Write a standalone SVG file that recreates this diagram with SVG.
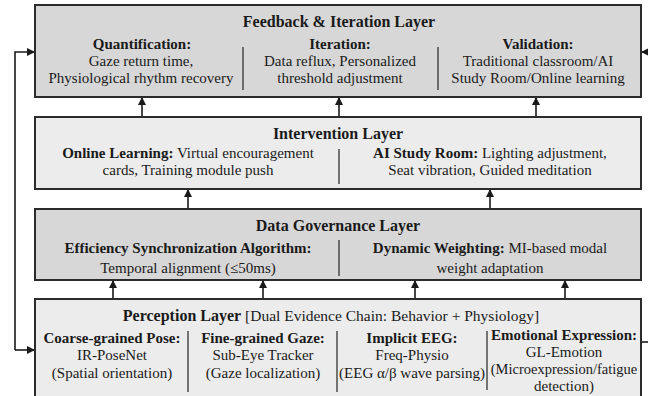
<svg xmlns="http://www.w3.org/2000/svg" width="648" height="396" viewBox="0 0 648 396">
<defs>
<marker id="ah" markerWidth="8" markerHeight="8" refX="7" refY="4" orient="auto" markerUnits="userSpaceOnUse">
<path d="M0,0 L8,4 L0,8 Z" fill="#1a1a1a"/>
</marker>
<style>
.dark{fill:#d7d7d7;stroke:#2b2b2b;stroke-width:2}
.light{fill:#ececec;stroke:#2b2b2b;stroke-width:2}
.sep{stroke:#333;stroke-width:1.3}
.con{stroke:#1a1a1a;stroke-width:1.6;fill:none}
text{font-family:"Liberation Serif","Times New Roman",serif;fill:#1a1a1a;text-anchor:middle}
.t{font-size:16px;font-weight:bold}
.h{font-size:15px;font-weight:bold}
.b{font-size:15px}
.bb{font-weight:bold}
</style>
</defs>
<rect width="648" height="396" fill="#ffffff"/>
<g id="connectors">
<line class="con" x1="142" y1="117" x2="142" y2="98" marker-end="url(#ah)"/>
<line class="con" x1="339" y1="117" x2="339" y2="98" marker-end="url(#ah)"/>
<line class="con" x1="536" y1="117" x2="536" y2="98" marker-end="url(#ah)"/>
<line class="con" x1="188" y1="209" x2="188" y2="190" marker-end="url(#ah)"/>
<line class="con" x1="490" y1="209" x2="490" y2="190" marker-end="url(#ah)"/>
<line class="con" x1="113" y1="299" x2="113" y2="281" marker-end="url(#ah)"/>
<line class="con" x1="263" y1="299" x2="263" y2="281" marker-end="url(#ah)"/>
<line class="con" x1="415" y1="299" x2="415" y2="281" marker-end="url(#ah)"/>
<line class="con" x1="565" y1="299" x2="565" y2="281" marker-end="url(#ah)"/>
<polyline class="con" points="15,350 15,52 34,52" marker-end="url(#ah)"/>
<line class="con" x1="15" y1="350" x2="34" y2="350" marker-end="url(#ah)"/>
<line class="con" x1="660" y1="52" x2="642" y2="52" marker-end="url(#ah)"/>
<line class="con" x1="641" y1="342" x2="660" y2="342"/>
</g>
<g id="feedback">
<rect class="dark" x="35" y="5" width="606" height="92"/>
<text class="t" x="339" y="27">Feedback &amp; Iteration Layer</text>
<line class="sep" x1="243" y1="47" x2="243" y2="90"/>
<line class="sep" x1="438" y1="47" x2="438" y2="90"/>
<text class="h" x="142" y="49">Quantification:</text>
<text class="b" x="141" y="66">Gaze return time,</text>
<text class="b" x="141" y="83">Physiological rhythm recovery</text>
<text class="h" x="340" y="49">Iteration:</text>
<text class="b" x="340" y="66">Data reflux, Personalized</text>
<text class="b" x="340" y="83">threshold adjustment</text>
<text class="h" x="538" y="49">Validation:</text>
<text class="b" x="538" y="66">Traditional classroom/AI</text>
<text class="b" x="538" y="83">Study Room/Online learning</text>
</g>
<g id="intervention">
<rect class="light" x="35" y="117" width="606" height="72"/>
<text class="t" x="338" y="139">Intervention Layer</text>
<line class="sep" x1="339" y1="149" x2="339" y2="184"/>
<text class="b" x="188" y="158"><tspan class="bb">Online Learning:</tspan> Virtual encouragement</text>
<text class="b" x="188" y="175">cards, Training module push</text>
<text class="b" x="490" y="158"><tspan class="bb">AI Study Room:</tspan> Lighting adjustment,</text>
<text class="b" x="490" y="175">Seat vibration, Guided meditation</text>
</g>
<g id="governance">
<rect class="dark" x="35" y="209" width="606" height="71"/>
<text class="t" x="338" y="231">Data Governance Layer</text>
<line class="sep" x1="339" y1="240" x2="339" y2="276"/>
<text class="b" x="188" y="253"><tspan class="bb">Efficiency Synchronization Algorithm:</tspan></text>
<text class="b" x="188" y="273">Temporal alignment (≤50ms)</text>
<text class="b" x="490" y="253"><tspan class="bb">Dynamic Weighting:</tspan> MI-based modal</text>
<text class="b" x="490" y="273">weight adaptation</text>
</g>
<g id="perception">
<rect class="light" x="35" y="299" width="606" height="105"/>
<text class="b" x="331" y="321" style="font-size:15.5px"><tspan class="bb" style="font-size:16px">Perception Layer</tspan> [Dual Evidence Chain: Behavior + Physiology]</text>
<line class="sep" x1="188" y1="331" x2="188" y2="392"/>
<line class="sep" x1="337" y1="331" x2="337" y2="392"/>
<line class="sep" x1="487" y1="331" x2="487" y2="390"/>
<text class="h" x="112" y="343">Coarse-grained Pose:</text>
<text class="b" x="112" y="360">IR-PoseNet</text>
<text class="b" x="112" y="378">(Spatial orientation)</text>
<text class="h" x="263" y="343">Fine-grained Gaze:</text>
<text class="b" x="263" y="360">Sub-Eye Tracker</text>
<text class="b" x="263" y="378">(Gaze localization)</text>
<text class="h" x="412" y="343">Implicit EEG:</text>
<text class="b" x="412" y="360">Freq-Physio</text>
<text class="b" x="412" y="378">(EEG α/β wave parsing)</text>
<text class="h" x="564" y="340">Emotional Expression:</text>
<text class="b" x="564" y="357">GL-Emotion</text>
<text class="b" x="564" y="374" style="font-size:14.5px">(Microexpression/fatigue</text>
<text class="b" x="564" y="391">detection)</text>
</g>
</svg>
